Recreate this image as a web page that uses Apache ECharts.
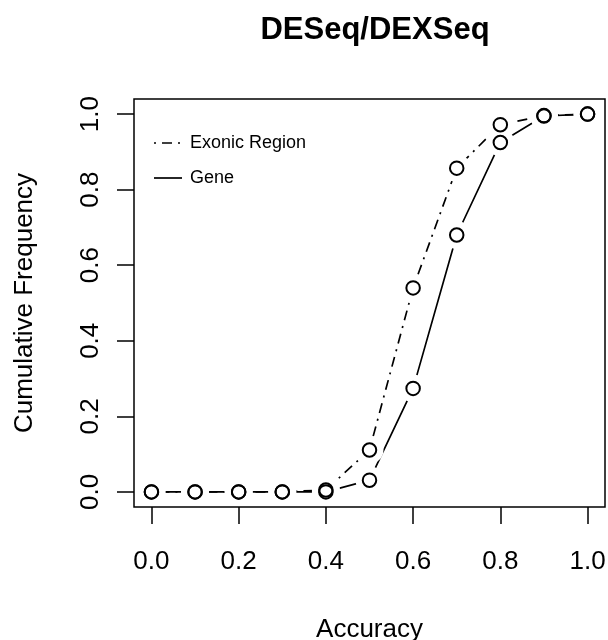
<!DOCTYPE html>
<html>
<head>
<meta charset="utf-8">
<script src="https://cdn.jsdelivr.net/npm/echarts@6/dist/echarts.min.js"></script>
<style>html,body{margin:0;padding:0;background:#fff}#c{width:608px;height:640px}</style>
</head>
<body>
<div id="c"></div>
<script>
var accuracy = [0.0, 0.1, 0.2, 0.3, 0.4, 0.5, 0.6, 0.7, 0.8, 0.9, 1.0];
var exonicRegion = [0.0, 0.0, 0.0, 0.0, 0.005, 0.111, 0.54, 0.857, 0.972, 0.996, 1.0];
var gene = [0.0, 0.0, 0.0, 0.0, 0.0, 0.031, 0.274, 0.68, 0.925, 0.995, 1.0];
var xTicks = [0, 0.2, 0.4, 0.6, 0.8, 1.0];
var yTicks = [0, 0.2, 0.4, 0.6, 0.8, 1.0];

var FONT = '"Liberation Sans", Arial, sans-serif';
function pairs(ys) { return accuracy.map(function (x, i) { return [x, ys[i]]; }); }

var chart = echarts.init(document.getElementById('c'), null, {renderer: 'canvas'});

function lineSeries(name, ys, type) {
  return {
    name: name, type: 'line', data: pairs(ys), showSymbol: false, z: 2,
    lineStyle: {color: '#000', width: 1.7, type: type},
    animation: false, silent: true
  };
}
function maskSeries(ys) {
  return {
    type: 'scatter', data: pairs(ys), symbol: 'circle', symbolSize: 28, z: 3,
    itemStyle: {color: '#fff', opacity: 1}, animation: false, silent: true
  };
}
function circleSeries(ys) {
  return {
    type: 'scatter', data: pairs(ys), symbol: 'circle', symbolSize: 13.5, z: 4,
    itemStyle: {color: 'rgba(255,255,255,0)', borderColor: '#000', borderWidth: 2, opacity: 1},
    animation: false, silent: true
  };
}

chart.setOption({
  animation: false,
  backgroundColor: '#fff',
  title: {
    text: 'DESeq/DEXSeq', left: 370, top: 10, textAlign: 'center',
    textStyle: {fontFamily: FONT, fontSize: 31, fontWeight: 'bold', color: '#000'}
  },
  grid: {
    left: 134, right: 3, top: 99, bottom: 133,
    containLabel: false, outerBoundsMode: 'none',
    show: true, borderColor: '#000', borderWidth: 1.5, backgroundColor: 'transparent'
  },
  xAxis: {
    type: 'value', min: -0.04, max: 1.04,
    name: 'Accuracy', nameLocation: 'middle', nameGap: 110,
    nameTextStyle: {fontFamily: FONT, fontSize: 26, color: '#000'},
    axisLine: {show: false, onZero: false},
    splitLine: {show: false},
    axisTick: {show: true, inside: false, length: 17, customValues: xTicks, lineStyle: {color: '#000', width: 1.5}},
    axisLabel: {customValues: xTicks, margin: 42, fontFamily: FONT, fontSize: 26, color: '#000',
      formatter: function (v) { return v.toFixed(1); }}
  },
  yAxis: {
    type: 'value', min: -0.04, max: 1.04,
    name: 'Cumulative Frequency', nameLocation: 'middle', nameGap: 96, nameRotate: 90,
    nameTextStyle: {fontFamily: FONT, fontSize: 26, color: '#000'},
    axisLine: {show: false, onZero: false},
    splitLine: {show: false},
    axisTick: {show: true, inside: false, length: 17, customValues: yTicks, lineStyle: {color: '#000', width: 1.5}},
    axisLabel: {customValues: yTicks, rotate: 90, margin: 30, fontFamily: FONT, fontSize: 26, color: '#000',
      formatter: function (v) { return v.toFixed(1); }}
  },
  graphic: [
    {type: 'line', shape: {x1: 154, y1: 143, x2: 182, y2: 143}, style: {stroke: '#000', lineWidth: 1.7, lineDash: [2, 6, 10, 6]}},
    {type: 'text', x: 190, y: 143, style: {text: 'Exonic Region', fontFamily: FONT, fontSize: 18, fill: '#000', verticalAlign: 'middle'}},
    {type: 'line', shape: {x1: 154, y1: 178, x2: 182, y2: 178}, style: {stroke: '#000', lineWidth: 1.7}},
    {type: 'text', x: 190, y: 178, style: {text: 'Gene', fontFamily: FONT, fontSize: 18, fill: '#000', verticalAlign: 'middle'}}
  ],
  series: [
    lineSeries('Exonic Region', exonicRegion, [2, 6, 10, 6]),
    lineSeries('Gene', gene, 'solid'),
    maskSeries(exonicRegion),
    maskSeries(gene),
    circleSeries(exonicRegion),
    circleSeries(gene)
  ]
});
</script>
</body>
</html>
